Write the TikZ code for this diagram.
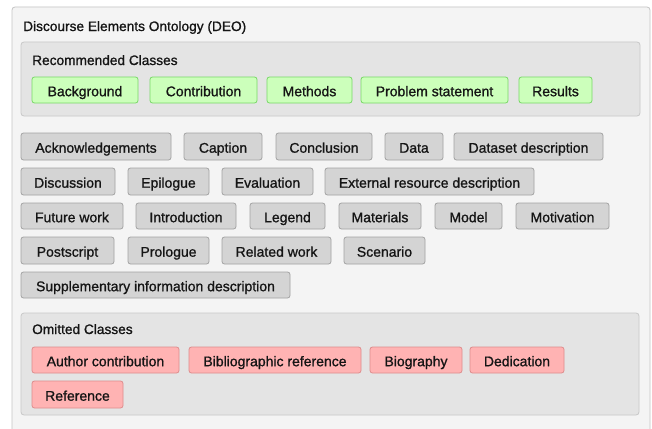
\documentclass[tikz,border=0pt]{standalone}
\usepackage{fontspec}
\setmainfont{Liberation Sans}
\newfontfamily\medfont{Liberation Sans}[FakeBold=1]
\definecolor{outerfill}{HTML}{F4F4F4}
\definecolor{outerdraw}{HTML}{C4C4C4}
\definecolor{innerfill}{HTML}{E4E4E4}
\definecolor{innerdraw}{HTML}{C8C8C8}
\definecolor{grayfill}{HTML}{D4D4D4}
\definecolor{graydraw}{HTML}{A2A2A2}
\definecolor{greenfill}{HTML}{CCFFBB}
\definecolor{greendraw}{HTML}{78D866}
\definecolor{redfill}{HTML}{FFB3B3}
\definecolor{reddraw}{HTML}{DE8C8C}
\definecolor{txt}{HTML}{151515}
\newcommand{\chip}[7]{%
  \node[#2, minimum width={#5-#3}, minimum height={#6-#4}] (#1) at ({(#3+#5)/2},{(#4+#6)/2}) {#7};}
\begin{document}
\begin{tikzpicture}[x=1pt,y=-1pt,
  chipbase/.style={rectangle, rounded corners=2.5pt, line width=0.8pt, inner sep=0pt, text=txt,
    text height=12.4pt, text depth=0pt,
    font=\medfont\fontsize{14}{16}\selectfont},
  graychip/.style={chipbase, fill=grayfill, draw=graydraw},
  greenchip/.style={chipbase, fill=greenfill, draw=greendraw},
  redchip/.style={chipbase, fill=redfill, draw=reddraw},
  panel/.style={rounded corners=3pt, line width=0.8pt},
  heading/.style={anchor=base west, inner sep=0pt, text=txt, font=\medfont\fontsize{13.7}{16}\selectfont}]
\useasboundingbox (0,0) rectangle (652,428);
\clip (0,0) rectangle (652,428);
\fill[white] (0,0) rectangle (652,428);
% outer panel
\draw[panel, fill=outerfill, draw=outerdraw] (12,7) rectangle (650,445);
\node[heading] (title) at (23,31) {Discourse Elements Ontology (DEO)};
% recommended panel
\draw[panel, fill=innerfill, draw=innerdraw] (21,42) rectangle (640,116);
\node[heading] (rec) at (32,65) {Recommended Classes};
\chip{bg}{greenchip}{32}{77}{138}{103}{Background}
\chip{contr}{greenchip}{150}{77}{257}{103}{Contribution}
\chip{meth}{greenchip}{267}{77}{352}{103}{Methods}
\chip{prob}{greenchip}{361}{77}{508}{103}{Problem statement}
\chip{res}{greenchip}{519}{77}{592}{103}{Results}
% gray chips
\chip{ack}{graychip}{21}{133}{171}{160}{Acknowledgements}
\chip{cap}{graychip}{184}{133}{262}{160}{Caption}
\chip{concl}{graychip}{276}{133}{372}{160}{Conclusion}
\chip{data}{graychip}{385}{133}{443}{160}{Data}
\chip{dsd}{graychip}{454}{133}{603}{160}{Dataset description}
\chip{disc}{graychip}{21}{168}{115}{195}{Discussion}
\chip{epi}{graychip}{128}{168}{209}{195}{Epilogue}
\chip{eval}{graychip}{222}{168}{313}{195}{Evaluation}
\chip{ext}{graychip}{325}{168}{534}{195}{External resource description}
\chip{fut}{graychip}{21}{203}{123}{229}{Future work}
\chip{intro}{graychip}{136}{203}{236}{229}{Introduction}
\chip{leg}{graychip}{250}{203}{325}{229}{Legend}
\chip{mat}{graychip}{339}{203}{421}{229}{Materials}
\chip{model}{graychip}{435}{203}{502}{229}{Model}
\chip{motiv}{graychip}{516}{203}{609}{229}{Motivation}
\chip{post}{graychip}{21}{237}{114}{264}{Postscript}
\chip{pro}{graychip}{128}{237}{209}{264}{Prologue}
\chip{rel}{graychip}{222}{237}{331}{264}{Related work}
\chip{scen}{graychip}{344}{237}{425}{264}{Scenario}
\chip{supp}{graychip}{21}{272}{290}{298}{Supplementary information description}
% omitted panel
\draw[panel, fill=innerfill, draw=innerdraw] (21,313) rectangle (639,415);
\node[heading] (omit) at (32,334) {Omitted Classes};
\chip{auth}{redchip}{32}{347}{179}{373}{Author contribution}
\chip{bib}{redchip}{189}{347}{361}{373}{Bibliographic reference}
\chip{bio}{redchip}{370}{347}{462}{373}{Biography}
\chip{ded}{redchip}{470}{347}{564}{373}{Dedication}
\chip{ref}{redchip}{32}{381}{123}{408}{Reference}
\end{tikzpicture}
\end{document}
